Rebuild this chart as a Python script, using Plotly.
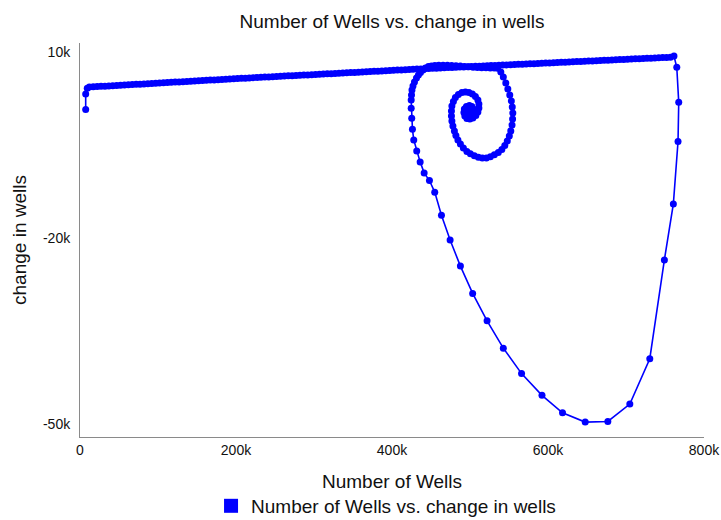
import plotly.graph_objects as go

# ---- data (thousands of wells) ----
start_x = [7.3, 7.3, 9.3]
start_y = [0.68, 3.20, 4.12]

growth_x = [12, 17, 22, 27, 32, 37, 42, 47, 52, 57, 62, 67, 72, 77, 82, 87, 92, 97, 102, 107,
            112, 117, 122, 127, 132, 137, 142, 147, 152, 157, 162, 167, 172, 177, 182, 187, 192,
            197, 202, 207, 212, 217, 222, 227, 232, 237, 242, 247, 252, 257, 262, 267, 272, 277,
            282, 287, 292, 297, 302, 307, 312, 317, 322, 327, 332, 337, 342, 347, 352, 357, 362,
            367, 372, 377, 382, 387, 392, 397, 402, 407, 412, 417, 422, 427, 432, 437, 442, 447,
            452, 457, 462, 467, 472, 477, 482, 487, 492, 497, 502, 507, 512, 517, 522, 527, 532,
            537, 542, 547, 552, 557, 562, 567, 572, 577, 582, 587, 592, 597, 602, 607, 612, 617,
            622, 627, 632, 637, 642, 647, 652, 657, 662, 667, 672, 677, 682, 687, 692, 697, 702,
            707, 712, 717, 722, 727, 732, 737, 742, 747, 752, 757, 761.5]
growth_y = [4.32, 4.36, 4.39, 4.43, 4.46, 4.50, 4.53, 4.57, 4.61, 4.64, 4.68, 4.71, 4.75, 4.78,
            4.82, 4.86, 4.89, 4.93, 4.96, 5.00, 5.04, 5.07, 5.11, 5.14, 5.18, 5.21, 5.25, 5.29,
            5.32, 5.36, 5.39, 5.43, 5.46, 5.50, 5.54, 5.57, 5.61, 5.64, 5.68, 5.71, 5.74, 5.78,
            5.81, 5.84, 5.88, 5.91, 5.94, 5.97, 6.01, 6.04, 6.07, 6.11, 6.14, 6.17, 6.21, 6.24,
            6.27, 6.31, 6.34, 6.37, 6.41, 6.44, 6.47, 6.51, 6.54, 6.57, 6.60, 6.64, 6.67, 6.70,
            6.74, 6.77, 6.80, 6.84, 6.87, 6.90, 6.94, 6.97, 7.00, 7.04, 7.07, 7.10, 7.14, 7.17,
            7.20, 7.23, 7.26, 7.29, 7.32, 7.35, 7.38, 7.41, 7.44, 7.47, 7.50, 7.53, 7.55, 7.58,
            7.61, 7.64, 7.67, 7.70, 7.73, 7.76, 7.79, 7.82, 7.85, 7.88, 7.91, 7.94, 7.97, 8.00,
            8.02, 8.05, 8.08, 8.11, 8.14, 8.17, 8.20, 8.23, 8.26, 8.29, 8.32, 8.35, 8.38, 8.41,
            8.44, 8.46, 8.49, 8.52, 8.55, 8.58, 8.61, 8.64, 8.67, 8.70, 8.73, 8.76, 8.79, 8.82,
            8.85, 8.88, 8.90, 8.93, 8.96, 8.99, 9.02, 9.05, 9.08, 9.11, 9.30]

collapse_x = [765.1, 767.6, 766.7, 760.7, 749.2, 730.5, 704.9, 676.7, 647.7, 618.6, 592.3,
              566.1, 542.7, 521.9, 503.4, 487.7, 474.5, 463.4, 454.8, 448.0, 441.2, 436.1,
              431.7, 427.9, 426.2, 425.3, 424.6, 424.6]
collapse_y = [7.49, 1.87, -4.46, -14.5, -23.5, -39.4, -46.7, -49.5, -49.6, -48.1, -45.3,
              -41.8, -37.7, -33.3, -28.9, -24.5, -20.3, -16.3, -12.6, -10.73, -9.50, -7.73,
              -5.96, -4.19, -2.47, -0.70, 0.90, 2.24]

recovery_x = [425.0, 425.6, 426.9, 428.8, 431.4, 433.9, 436.5, 439.7, 442.9, 446.7, 450.6,
              455.0, 460.0, 465.5, 471.0, 476.5, 482.0, 487.5, 493.0, 498.5, 504.0, 509.5,
              515.0, 520.5, 526.0, 531.0]
recovery_y = [3.04, 3.84, 4.49, 5.13, 5.77, 6.26, 6.66, 7.06, 7.38, 7.62, 7.70,
              7.76, 7.80, 7.81, 7.80, 7.77, 7.73, 7.68, 7.62, 7.56, 7.50, 7.45,
              7.42, 7.40, 7.38, 7.36]

spiral_x = [535.4, 539.5, 542.7, 545.9, 548.5, 551.0, 553.0, 554.2, 554.9, 554.6, 553.9, 552.3,
            550.4, 547.8, 544.6, 540.8, 536.3, 531.2, 526.1, 521.0, 515.8, 510.7, 505.6, 500.5,
            496.0, 491.5, 487.7, 484.5, 481.9, 480.0, 478.1, 476.8, 476.2, 476.2, 476.8, 478.7,
            481.3, 485.1, 489.6, 494.1, 498.6, 503.0, 506.9, 510.1, 511.4, 511.4, 510.1, 507.5,
            503.7, 499.8, 496.0, 493.4, 492.2, 492.8, 495.4, 499.2, 502.4, 504.3, 503.7, 501.1,
            498.6, 497.3, 498.6, 500.5, 500.5]
spiral_y = [7.33, 6.74, 5.93, 4.97, 4.01, 3.04, 2.08, 1.11, 0.15, -0.82, -1.78, -2.75,
            -3.55, -4.35, -5.08, -5.72, -6.20, -6.60, -6.92, -7.09, -7.09, -7.00, -6.76, -6.44,
            -6.04, -5.48, -4.84, -4.19, -3.47, -2.75, -1.94, -1.14, -0.33, 0.47, 1.27, 2.00,
            2.64, 3.12, 3.44, 3.52, 3.44, 3.20, 2.80, 2.24, 1.59, 0.95, 0.31, -0.25,
            -0.66, -0.82, -0.74, -0.33, 0.23, 0.79, 1.19, 1.35, 1.19, 0.79, 0.31, 0.07,
            0.15, 0.47, 0.79, 0.71, 0.47]

x_tick_vals = [0, 200000, 400000, 600000, 800000]
x_tick_text = ["0", "200k", "400k", "600k", "800k"]
y_tick_vals = [10000, -20000, -50000]
y_tick_text = ["10k", "-20k", "-50k"]

series_name = "Number of Wells vs. change in wells"

# ---- assemble in time order ----
wells = [v * 1000 for v in start_x + growth_x + collapse_x + recovery_x + spiral_x]
change = [v * 1000 for v in start_y + growth_y + collapse_y + recovery_y + spiral_y]

FONT = "Liberation Sans, Arial, Helvetica, sans-serif"
BLUE = "#0000ff"
TXT = "#111111"

fig = go.Figure()
fig.add_trace(go.Scatter(
    x=wells, y=change, mode="lines+markers",
    line=dict(color=BLUE, width=1.6),
    marker=dict(color=BLUE, size=7),
    showlegend=False, hoverinfo="x+y",
))
# legend entry (square swatch)
fig.add_trace(go.Scatter(
    x=[None], y=[None], mode="markers", name=series_name,
    marker=dict(color=BLUE, size=14, symbol="square"),
    showlegend=True,
))

fig.update_layout(
    width=721, height=520,
    margin=dict(l=80, r=17, t=43, b=83, autoexpand=False),
    paper_bgcolor="white", plot_bgcolor="white",
    font=dict(family=FONT, color=TXT, size=14),
    title=dict(text="Number of Wells vs. change in wells", x=0.5, xref="paper",
               y=1 - 21 / 520, yref="container", yanchor="middle",
               font=dict(size=19, color=TXT, family=FONT)),
    xaxis=dict(range=[0, 800000], showgrid=False, zeroline=False, showline=True,
               linecolor="#8a8a8a", linewidth=1, ticks="", automargin=False,
               tickvals=x_tick_vals, ticktext=x_tick_text,
               tickfont=dict(size=14, color=TXT),
               title=dict(text="Number of Wells", font=dict(size=19, color=TXT), standoff=17)),
    yaxis=dict(range=[-52000, 11400], showgrid=False, zeroline=False, showline=True,
               linecolor="#8a8a8a", linewidth=1, ticks="", automargin=False,
               tickvals=y_tick_vals, ticktext=y_tick_text,
               tickfont=dict(size=14, color=TXT), ticklabelstandoff=6,
               title=dict(text="change in wells", font=dict(size=19, color=TXT), standoff=11)),
    legend=dict(orientation="h", x=0.21, xanchor="left", y=-0.175, yanchor="middle",
                font=dict(size=19, color=TXT), bgcolor="rgba(0,0,0,0)"),
)

# remove the default page margin so the 721x520 figure fills the window exactly
fig.write_html(
    "out.html",
    config={"displayModeBar": False},
    post_script="document.body.style.margin='0';document.body.style.overflow='hidden';",
)
